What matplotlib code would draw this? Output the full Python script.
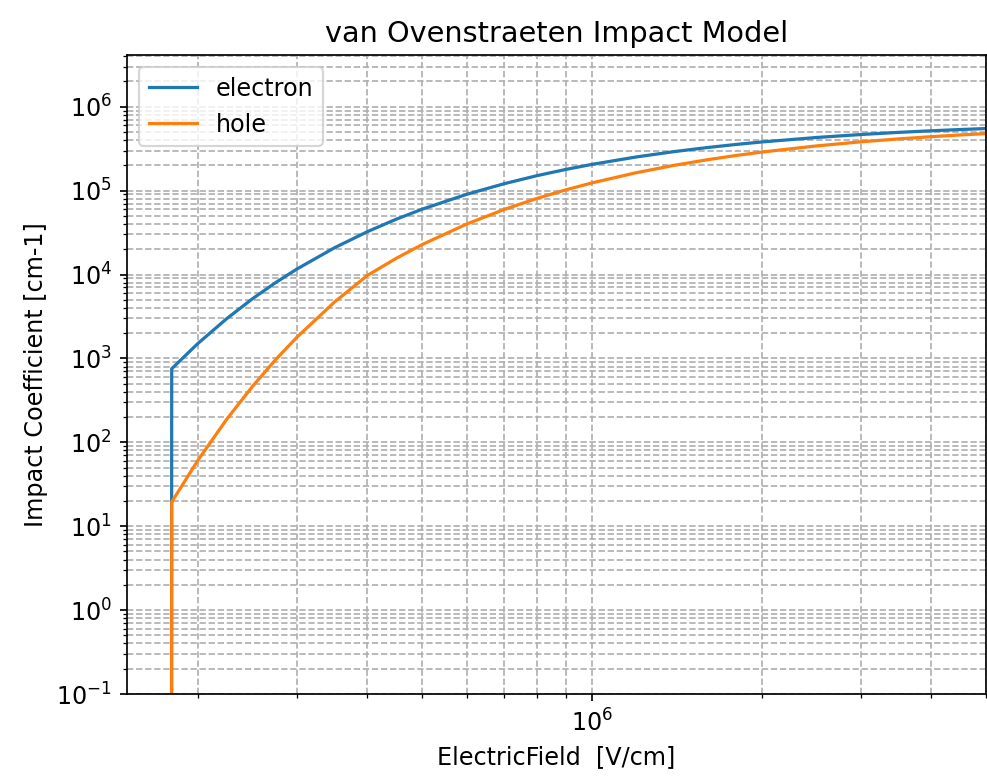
import matplotlib
matplotlib.use("Agg")
import matplotlib.pyplot as plt

# field values [V/cm] and coefficients [cm-1]
field = [1.5e5, 1.8e5, 2.0e5, 2.25e5, 2.5e5, 2.75e5, 3.0e5, 3.5e5, 4.0e5,
         4.5e5, 5.0e5, 6.0e5, 7.0e5, 8.0e5, 9.0e5, 1.0e6, 1.2e6, 1.4e6,
         1.6e6, 1.8e6, 2.0e6, 2.5e6, 3.0e6, 3.5e6, 4.0e6, 4.5e6, 5.0e6]

electron = [0, 753, 1492, 2955, 5111, 7997, 11613, 20869, 32390,
            45593, 59941, 90347, 121117, 150891, 179029, 205278, 252032, 291800,
            325701, 354769, 379881, 429644, 466391, 494549, 516775, 534751, 549583]

hole = [0, 19.4, 60.0, 185.9, 459.5, 963.5, 1785.6, 4708, 9742,
        15589, 22709, 39929, 59752, 80843, 102274, 123443, 163685, 200232,
        232908, 261964, 287801, 340892, 381624, 413665, 439449, 460609, 478269]

plt.rcParams["font.size"] = 11.2

fig = plt.figure(figsize=(6.41, 5.04), dpi=154)
ax = fig.add_axes([0.1287, 0.1057, 0.8703, 0.8234])

ax.plot(field, electron, label="electron")
ax.plot(field, hole, label="hole")
ax.set_xscale("log")
ax.set_yscale("log")
ax.set_xlim(1.5e5, 5e6)
ax.set_ylim(1e-1, 4.15e6)

ax.grid(True, which="both", ls="--")
ax.set_title("van Ovenstraeten Impact Model")
ax.set_xlabel("ElectricField  [V/cm]")
ax.set_ylabel("Impact Coefficient [cm-1]")
ax.legend(loc="upper left")

plt.savefig("out.png", dpi=154)
plt.close()
